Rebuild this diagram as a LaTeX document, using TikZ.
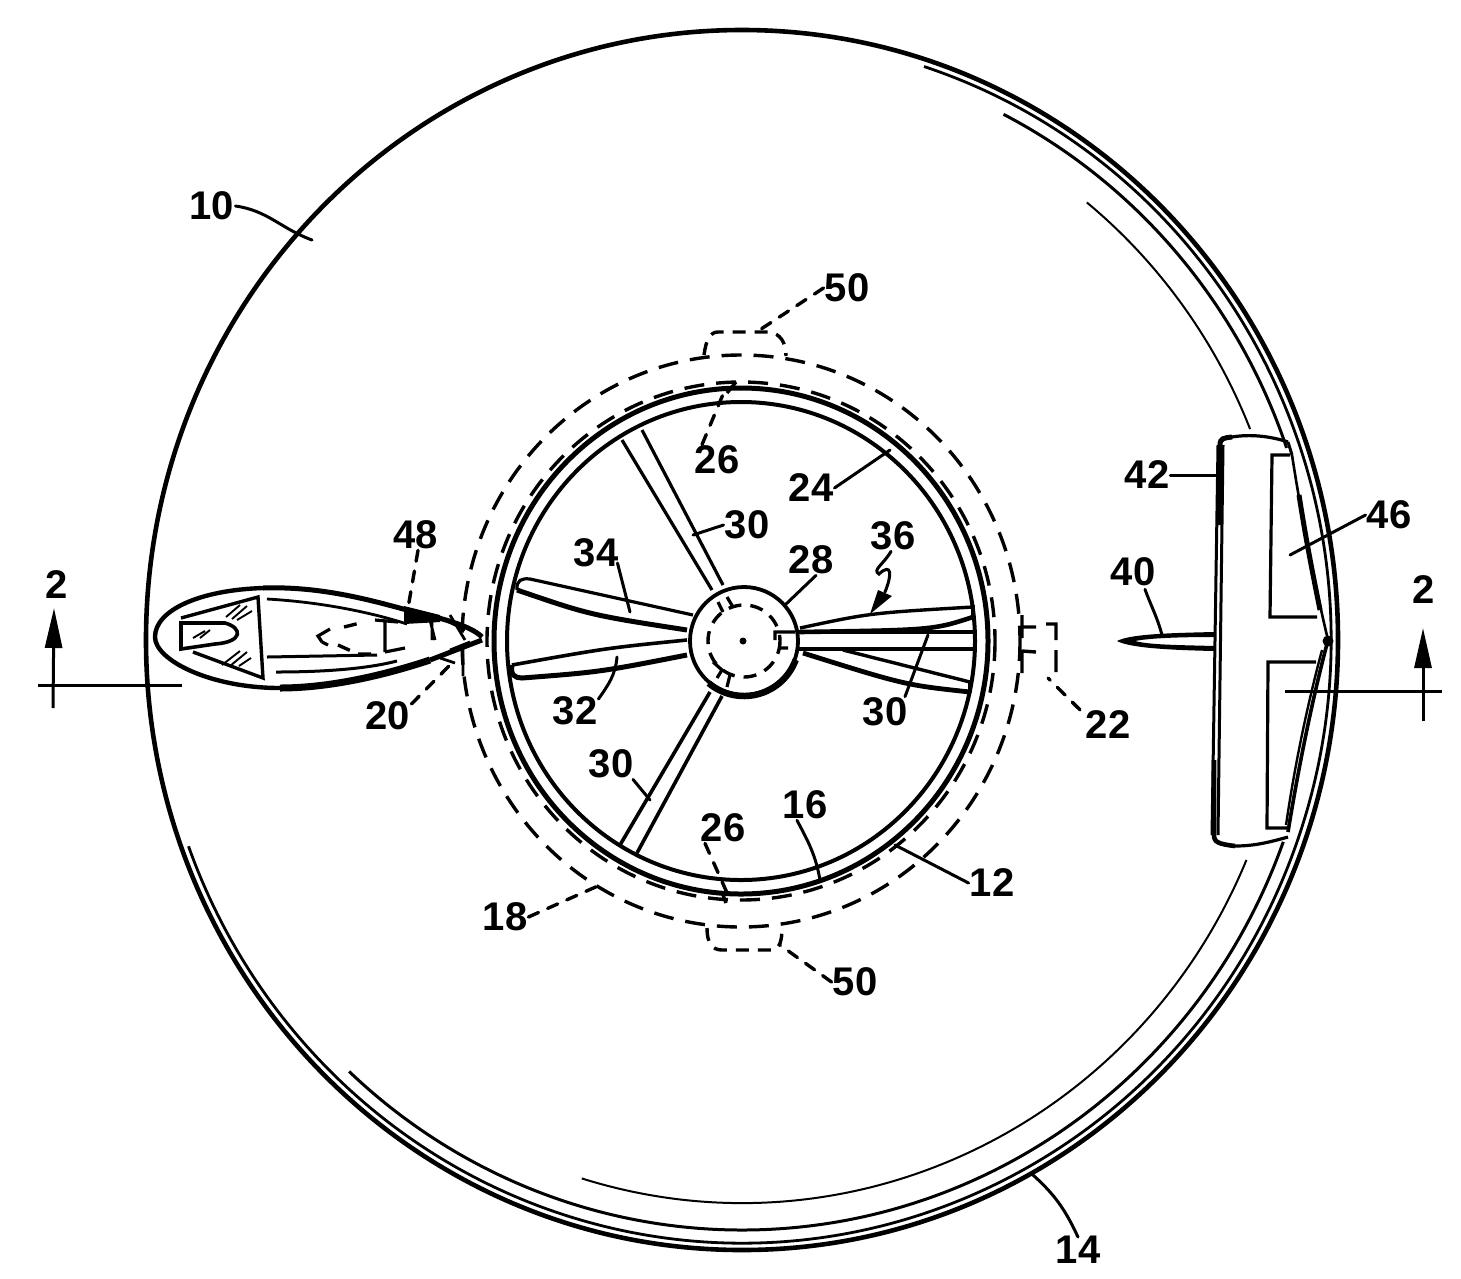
\documentclass[tikz,border=0pt]{standalone}
\usepackage{fontspec}
\setmainfont{Liberation Sans}
\usetikzlibrary{arrows.meta,calc}
\tikzset{
  lbl/.style={font=\fontsize{40}{40}\selectfont\bfseries,inner sep=1pt,text=black},
  lead/.style={line width=3pt,line cap=round},
  dlead/.style={line width=3.4pt,line cap=round,dash pattern=on 11pt off 10pt},
  hid/.style={line width=3.4pt,dash pattern=on 20pt off 12pt},
  hidf/.style={line width=3.4pt,dash pattern=on 13pt off 9pt},
  sect/.style={line width=3pt,-{Triangle[length=40pt,width=17pt]}}
}
\newcommand{\earc}[5]{\draw[#1] ($(C)+(#4:#2 and #3)$) arc[start angle=#4,end angle=#5,x radius=#2,y radius=#3];}
\begin{document}
\begin{tikzpicture}[x=1pt,y=-1pt]
\useasboundingbox (0,0) rectangle (1461,1278);
\fill[white] (0,0) rectangle (1461,1278);
\coordinate (C) at (742,640);
\coordinate (W) at (741,641);
\coordinate (H) at (744,641);
% outer disc
\draw[line width=4.6pt] (C) ellipse[x radius=596,y radius=610];
\earc{line width=2.8pt}{589}{603}{-72}{160}
\earc{line width=3pt}{576}{590}{-63}{-19}
\earc{line width=3pt}{576}{590}{20}{133}
\earc{line width=2pt}{548}{563}{-51}{-22}
\earc{line width=2pt}{548}{563}{23}{107}
% ring
\draw[line width=5pt] (W) ellipse[x radius=247,y radius=253];
\draw[line width=4pt] (W) ellipse[x radius=234,y radius=239];
\draw[hid] (W) ellipse[x radius=254,y radius=259];
\draw[hid] (W) ellipse[x radius=279,y radius=286];
\draw[line width=3.4pt] (736,382)--(727,393) (722,892)--(726,903);
% hub
\draw[line width=3.8pt] (H) circle[radius=54];
\draw[line width=6.5pt] ($(H)+(20:55)$) arc[start angle=20,end angle=130,radius=55];
\draw[hidf] (H) circle[radius=36];
\fill (743,641) circle[radius=3.5];
% spokes
\draw[line width=3.2pt] (622,440)--(712,590) (642,430)--(723,585);
\draw[line width=3.6pt] (620,845)--(710,692) (637,853)--(722,696);
\draw[line width=4pt] (798,632)--(975,632) (798,649)--(975,649);
% hub keys
\draw[line width=3.2pt] (718,602)--(723,612) (727,597)--(733,607) (775,640)--(775,632)--(795,632)
 (780,648)--(788,648) (713,662)--(722,670)--(717,678) (730,675)--(727,687);
% blades
\draw[line width=3.2pt] (693,615) -- (530,579) .. controls (522,578) and (516,580) .. (517,590);
\draw[line width=5pt] (517,590) .. controls (590,615) .. (687,630);
\draw[line width=3.6pt] (512,665) .. controls (607,648) .. (687,640);
\draw[line width=5pt] (512,665) .. controls (510,675) and (515,678) .. (522,678) .. controls (600,672) .. (687,655);
\draw[line width=3.4pt] (800,628) .. controls (870,613) .. (973,607);
\draw[line width=4.6pt] (800,632) .. controls (933,630) .. (973,617);
\draw[line width=3.4pt] (843,650) -- (970,682);
\draw[line width=4.8pt] (803,653) .. controls (905,685) .. (970,692);
\draw[line width=4pt] (973,605)--(973,620) (970,680)--(970,693);
% bumps 50
\draw[hidf] (704,355) .. controls (706,340) and (710,332) .. (718,332) -- (770,332) .. controls (780,334) and (786,342) .. (786,356);
\draw[hidf] (707,928) .. controls (707,943) and (712,950) .. (722,950) -- (773,950) .. controls (780,948) and (782,940) .. (782,928);
% box 22
\draw[line width=3.4pt] (1022,615)--(1022,638) (1022,627)--(1036,627) (1046,624)--(1056,624)--(1056,640)
  (1022,650)--(1022,673) (1022,651)--(1036,652) (1056,650)--(1056,672);
% boat
\draw[line width=4.4pt] (263,588) .. controls (200,590) and (155,610) .. (155,637) .. controls (155,660) and (210,688) .. (280,688);
\draw[line width=5pt] (263,588) .. controls (320,586) and (370,600) .. (407,610) .. controls (440,618) and (470,625) .. (482,637);
\draw[line width=7pt] (280,688) .. controls (330,688) and (385,675) .. (430,660);
\draw[line width=5pt] (430,660) -- (482,640);
\fill (404,606) -- (440,615) -- (440,622) -- (404,624) -- cycle;
\draw[line width=3.4pt] (181,618) -- (258,597) -- (263,678) -- (193,652);
\draw[line width=3.6pt] (181,623) -- (181,649) -- (215,644) .. controls (243,642) and (243,628) .. (225,623) -- cycle;
\draw[line width=1.9pt] (226,617)--(240,605) (232,619)--(247,606) (237,620)--(252,611) (222,665)--(240,651) (230,666)--(247,652) (239,666)--(251,658) (193,638)--(205,631) (200,638)--(210,630);
\draw[line width=2.8pt] (267,599) .. controls (320,602) and (370,612) .. (407,624);
\draw[line width=3pt] (267,657) -- (377,655);
\draw[line width=3pt] (276,672) .. controls (330,672) and (370,668) .. (397,661);
\draw[line width=3.2pt] (322,642) -- (318,636) -- (330,629) (322,642) -- (328,645);
\draw[hidf] (344,627) -- (364,622) (338,645) -- (358,654) -- (378,654);
\draw[line width=3.2pt] (375,620)--(398,622) (385,622)--(385,652) (385,652)--(405,648);
\draw[line width=2.8pt] (430,620)--(435,640) (437,616)--(465,630) (432,617)--(432,640) (450,615)--(465,640) (450,650)--(470,642) (463,645)--(463,676) (440,658)--(455,663);
% needle 40
\fill (1117,641) .. controls (1130,634) and (1170,633) .. (1214,632) -- (1214,637) .. controls (1180,637) and (1150,638) .. (1135,641) .. controls (1150,645) and (1180,645) .. (1214,646) -- (1214,651) .. controls (1170,650) and (1130,648) .. (1117,641) -- cycle;
% tail fin
\draw[line width=5pt] (1220,445) .. controls (1220,438) and (1224,438) .. (1232,437);
\draw[line width=3.2pt] (1232,437) .. controls (1250,434) and (1270,436) .. (1288,442);
\draw[line width=3pt] (1218,445) -- (1212,835) (1223,445) -- (1218,835);
\draw[line width=5.5pt] (1220,445) -- (1219,525);
\draw[line width=4.6pt] (1214,760) -- (1214,835) .. controls (1214,842) and (1218,844) .. (1235,846);
\draw[line width=3.2pt] (1235,846) .. controls (1255,846) and (1270,842) .. (1288,837);
\draw[line width=3.2pt] (1290,455) -- (1272,455) -- (1270,617) -- (1317,617);
\draw[line width=3.2pt] (1316,662) -- (1268,662) -- (1267,828) -- (1288,828);
\draw[line width=3pt] (1288,442) -- (1292,455);
\draw[line width=2.6pt] (1292,455) .. controls (1302,520) and (1316,590) .. (1328,640);
\draw[line width=5pt] (1299,495) .. controls (1306,540) and (1312,570) .. (1320,610);
\draw[line width=3.6pt] (1328,640) .. controls (1312,700) and (1298,770) .. (1288,832);
\draw[line width=2.4pt] (1322,650) .. controls (1306,710) and (1294,770) .. (1286,825);
\fill (1328,641) circle[radius=5.5];
% section lines
\coordinate (a0) at (38,685); \coordinate (a3) at (182,685);
\coordinate (b0) at (1285,691); \coordinate (b3) at (1442,691);
\draw[line width=3pt] (a0)--(a3);
\draw[line width=3pt] (b0)--(b3);
\coordinate (a1) at (53,708); \coordinate (a2) at (54,608);
\coordinate (b1) at (1423,721); \coordinate (b2) at (1423,628);
\draw[sect] (a1)--(a2);
\draw[sect] (b1)--(b2);
% labels
\node[lbl] (s1) at (57,585) {2};
\node[lbl] (s2) at (1424,590) {2};
\node[lbl] (n10) at (212,206) {10};
\node[lbl] (n50a) at (847,288) {50};
\node[lbl] (n26a) at (717,460) {26};
\node[lbl] (n24) at (811,488) {24};
\node[lbl] (n42) at (1147,475) {42};
\node[lbl] (n46) at (1389,515) {46};
\node[lbl] (n40) at (1133,572) {40};
\node[lbl] (n30a) at (747,525) {30};
\node[lbl] (n34) at (596,553) {34};
\node[lbl] (n28) at (811,560) {28};
\node[lbl] (n36) at (893,536) {36};
\node[lbl] (n48) at (416,535) {48};
\node[lbl] (n20) at (388,716) {20};
\node[lbl] (n32) at (575,711) {32};
\node[lbl] (n30b) at (885,712) {30};
\node[lbl] (n30c) at (611,764) {30};
\node[lbl] (n26b) at (723,828) {26};
\node[lbl] (n16) at (805,805) {16};
\node[lbl] (n12) at (992,883) {12};
\node[lbl] (n18) at (505,917) {18};
\node[lbl] (n50b) at (855,982) {50};
\node[lbl] (n22) at (1108,725) {22};
\node[lbl] (n14) at (1078,1250) {14};
% leader ends
\coordinate (t10) at (312,240);
\coordinate (t50a) at (755,333);
\coordinate (t26a) at (724,392);
\coordinate (t24) at (890,450);
\coordinate (t42) at (1220,475);
\coordinate (t46) at (1290,555);
\coordinate (t40) at (1162,635);
\coordinate (t30a) at (693,535);
\coordinate (t34) at (630,612);
\coordinate (t28) at (785,605);
\coordinate (t48) at (408,608);
\coordinate (t20) at (450,665);
\coordinate (t32) at (617,657);
\coordinate (t30b) at (928,635);
\coordinate (t30c) at (650,800);
\coordinate (t26b) at (728,895);
\coordinate (t16) at (820,880);
\coordinate (t12) at (895,845);
\coordinate (t18) at (600,885);
\coordinate (t50b) at (780,945);
\coordinate (t22) at (1048,678);
\coordinate (t14) at (1033,1175);
% leaders
\draw[lead] (n10.east) to[out=-8,in=160] (t10);
\draw[dlead] (n50a.west) -- (t50a);
\draw[dlead] (n26a.north) ++(-15,0) -- (t26a);
\draw[lead] (n24.east) -- (t24);
\draw[lead] (n42.east) -- (t42);
\draw[lead] (n46.west) -- (t46);
\draw[lead] (n40.south) ++(12,2) to[out=-70,in=105] (t40);
\draw[lead] (n30a.west) -- (t30a);
\draw[lead] (n34.east) ++(-2,10) -- (t34);
\draw[lead] (n28.south) ++(5,0) -- (t28);
\draw[dlead] (n48.south) ++(2,0) -- (t48);
\draw[dlead] (n20.east) ++(0,-12) -- (t20);
\draw[lead] (n32.east) ++(0,-12) to[out=55,in=-95] (t32);
\draw[lead] (n30b.north) ++(20,0) -- (t30b);
\draw[lead] (n30c.south) ++(22,0) -- (t30c);
\draw[dlead] (n26b.south) ++(-18,0) -- (t26b);
\draw[lead] (n16.south) ++(-8,0) to[out=-62,in=100] (t16);
\draw[lead] (n12.west) -- (t12);
\draw[dlead] (n18.east) -- (t18);
\draw[dlead] (n50b.west) -- (t50b);
\draw[dlead] (n22.north) ++(-28,0) -- (t22);
\draw[lead] (n14.north) ++(0,2) to[out=115,in=-42] (t14);
% squiggle arrow 36
\draw[lead] ($(n36.south)+(-2,0)$) .. controls (883,565) and (872,570) .. (879,574) .. controls (892,562) and (892,575) .. (885,592);
\fill (870,614) -- (878,590) -- (892,596) -- cycle;
\end{tikzpicture}
\end{document}
